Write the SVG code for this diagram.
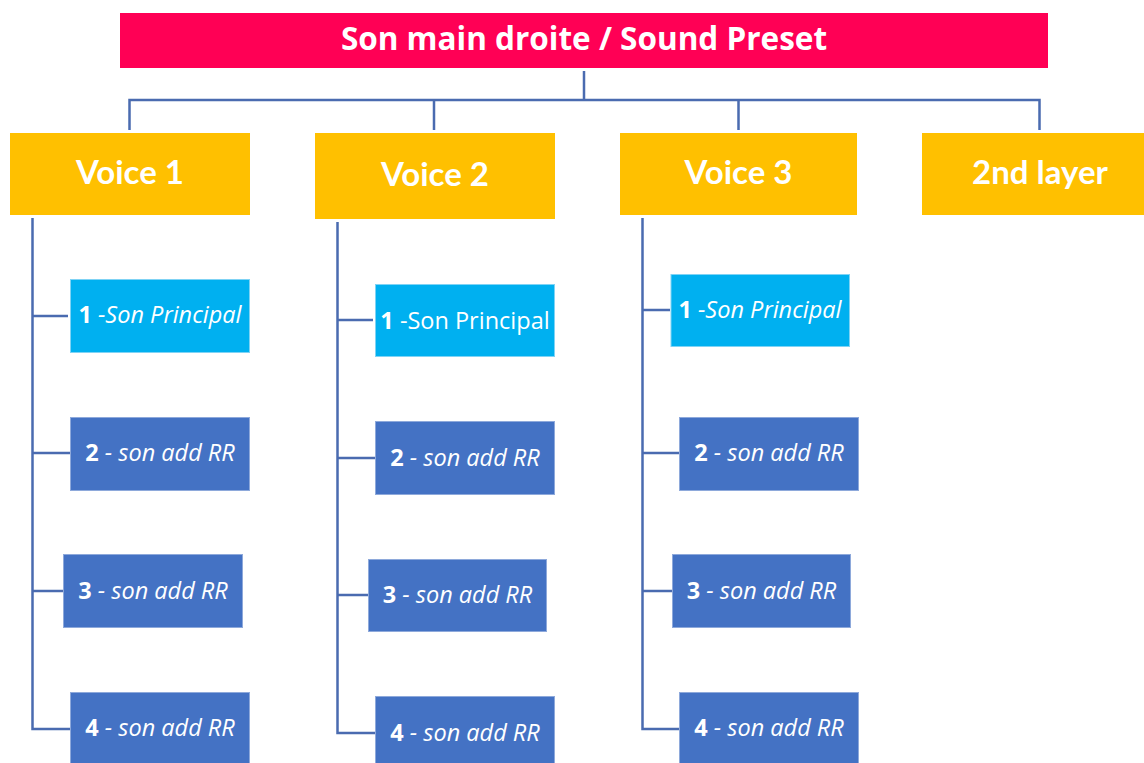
<svg xmlns="http://www.w3.org/2000/svg" width="1144" height="763" viewBox="0 0 1144 763">
<style>
  .root { fill: #FF0055; }
  .voice { fill: #FFC000; }
  .main { fill: #00B0F0; stroke: #7FD3F5; stroke-width: 1; }
  .add { fill: #4472C4; stroke: #8EA9DB; stroke-width: 1; }
  text { font-family: Lato, "Open Sans", "Liberation Sans", sans-serif; fill: #FFFFFF; text-anchor: middle; }
  .t-root { font-family: "Open Sans", Lato, sans-serif; font-size: 31.5px; font-weight: bold; }
  .t-voice { font-size: 33px; font-weight: bold; }
  .t-child { font-family: "Open Sans", Lato, sans-serif; font-size: 23.5px; }
  .b { font-weight: bold; font-style: normal; }
  .i { font-style: italic; }
  .conn { fill: none; stroke: #4A6BB0; stroke-width: 2.5; }
</style>
<rect width="1144" height="763" fill="#FFFFFF"/>
<g id="connectors" class="conn">
  <path d="M584 71 V100 M129.5 130 V100 H1039.5 V130 M434 100 V130 M738.5 100 V130"/>
  <path d="M32.5 218 V729 H70 M32.5 316 H68 M32.5 453 H70 M32.5 591 H63"/>
  <path d="M337.5 222 V733 H375 M337.5 320 H373 M337.5 458 H375 M337.5 595 H368"/>
  <path d="M642.5 218 V729 H679 M642.5 310 H670 M642.5 453 H679 M642.5 591 H672"/>
</g>
<g id="root">
  <rect class="root" x="120" y="13" width="928" height="55"/>
  <text class="t-root" x="584" y="50">Son main droite / Sound Preset</text>
</g>
<g id="voice1">
  <rect class="voice" x="10" y="133" width="240" height="82"/>
  <text class="t-voice" x="130" y="184">Voice 1</text>
</g>
<g id="voice2">
  <rect class="voice" x="315" y="133" width="240" height="86"/>
  <text class="t-voice" x="435" y="186">Voice 2</text>
</g>
<g id="voice3">
  <rect class="voice" x="620" y="133" width="237" height="82"/>
  <text class="t-voice" x="738.5" y="184">Voice 3</text>
</g>
<g id="layer2">
  <rect class="voice" x="922" y="133" width="224" height="82"/>
  <text class="t-voice" x="1040" y="184">2nd layer</text>
</g>
<g id="v1-1">
  <rect class="main" x="70.5" y="279.5" width="179" height="73"/>
  <text class="t-child" x="160" y="323"><tspan class="b">1</tspan><tspan class="i"> -Son Principal</tspan></text>
</g>
<g id="v1-2">
  <rect class="add" x="70.5" y="417.5" width="179" height="73"/>
  <text class="t-child" x="160" y="461"><tspan class="b">2</tspan><tspan class="i"> - son add RR</tspan></text>
</g>
<g id="v1-3">
  <rect class="add" x="63.5" y="554.5" width="179" height="73"/>
  <text class="t-child" x="153" y="599"><tspan class="b">3</tspan><tspan class="i"> - son add RR</tspan></text>
</g>
<g id="v1-4">
  <rect class="add" x="70.5" y="692.5" width="179" height="73"/>
  <text class="t-child" x="160" y="736"><tspan class="b">4</tspan><tspan class="i"> - son add RR</tspan></text>
</g>
<g id="v2-1">
  <rect class="main" x="375.5" y="284.5" width="179" height="72"/>
  <text class="t-child" x="465" y="329"><tspan class="b">1</tspan><tspan> -Son Principal</tspan></text>
</g>
<g id="v2-2">
  <rect class="add" x="375.5" y="421.5" width="179" height="73"/>
  <text class="t-child" x="465" y="466"><tspan class="b">2</tspan><tspan class="i"> - son add RR</tspan></text>
</g>
<g id="v2-3">
  <rect class="add" x="368.5" y="559.5" width="178" height="72"/>
  <text class="t-child" x="457.5" y="603"><tspan class="b">3</tspan><tspan class="i"> - son add RR</tspan></text>
</g>
<g id="v2-4">
  <rect class="add" x="375.5" y="696.5" width="179" height="73"/>
  <text class="t-child" x="465" y="741"><tspan class="b">4</tspan><tspan class="i"> - son add RR</tspan></text>
</g>
<g id="v3-1">
  <rect class="main" x="671" y="274.5" width="178.5" height="72"/>
  <text class="t-child" x="760" y="318"><tspan class="b">1</tspan><tspan class="i"> -Son Principal</tspan></text>
</g>
<g id="v3-2">
  <rect class="add" x="679.5" y="417.5" width="179" height="73"/>
  <text class="t-child" x="769" y="461"><tspan class="b">2</tspan><tspan class="i"> - son add RR</tspan></text>
</g>
<g id="v3-3">
  <rect class="add" x="672.5" y="554.5" width="178" height="73"/>
  <text class="t-child" x="761.5" y="599"><tspan class="b">3</tspan><tspan class="i"> - son add RR</tspan></text>
</g>
<g id="v3-4">
  <rect class="add" x="679.5" y="692.5" width="179" height="73"/>
  <text class="t-child" x="769" y="736"><tspan class="b">4</tspan><tspan class="i"> - son add RR</tspan></text>
</g>
</svg>
